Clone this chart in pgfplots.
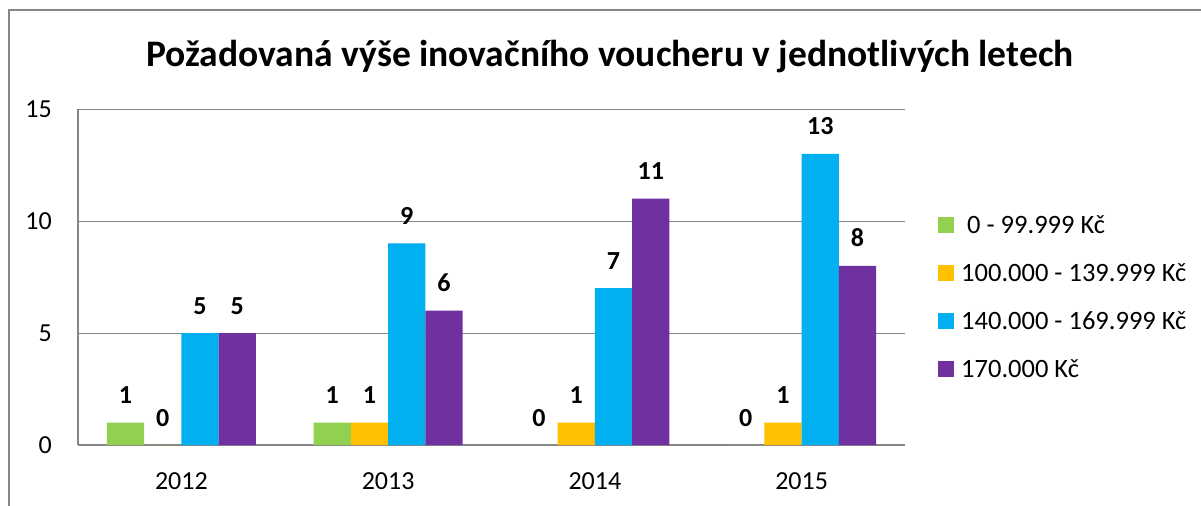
\documentclass[border=0pt]{standalone}
\usepackage{fontspec}
\setmainfont{Carlito}
\usepackage{pgfplots}
\pgfplotsset{compat=1.18}
\definecolor{cgreen}{HTML}{92D050}
\definecolor{corange}{HTML}{FFC000}
\definecolor{cblue}{HTML}{00B0F0}
\definecolor{cpurple}{HTML}{7030A0}
\definecolor{axgray}{HTML}{868686}
\begin{document}
\begin{tikzpicture}
\useasboundingbox (0bp,0bp) rectangle (1201bp,-506bp);
\draw[axgray, line width=1.5bp] (9bp,-506bp) -- (9bp,-10bp) -- (1201bp,-10bp);
\node[anchor=base, inner sep=0, font=\fontsize{37.5bp}{45bp}\selectfont\bfseries] at (610bp,-66bp) {Požadovaná výše inovačního voucheru v jednotlivých letech};
\begin{axis}[
  at={(78bp,-445bp)}, anchor=south west,
  scale only axis, width=827bp, height=336bp,
  ybar=0pt, bar width=37.3bp,
  xmin=-0.5, xmax=3.5, ymin=0, ymax=15,
  xtick={0,1,2,3}, xticklabels={2012,2013,2014,2015},
  ytick={0,5,10,15},
  /pgf/number format/assume math mode=true,
  ymajorgrids, grid style={axgray, line width=1bp},
  axis x line*=bottom, axis y line*=left,
  axis line style={axgray, line width=1.5bp, -},
  major tick length=0pt,
  tick label style={font=\fontsize{26bp}{31bp}\selectfont, inner sep=0pt},
  xticklabel style={yshift=-27bp},
  yticklabel style={xshift=-26bp},
  nodes near coords,
  every node near coord/.append style={font=\fontsize{26bp}{31bp}\selectfont\bfseries, inner sep=0pt, anchor=south, yshift=18.5bp, text=black},
  legend style={at={(1.0399,0.6845)}, anchor=north west, draw=none, fill=none,
    font=\fontsize{26.5bp}{32bp}\selectfont, inner sep=0pt, row sep=28.7bp, column sep=7bp,
    nodes={inner sep=0pt}},
  legend cell align=left,
  legend image code/.code={\fill[#1] (0bp,-8bp) rectangle (16bp,8bp);},
]
\addplot[fill=cgreen, draw=none] coordinates {(0,1) (1,1) (2,0) (3,0)};
\addplot[fill=corange, draw=none] coordinates {(0,0) (1,1) (2,1) (3,1)};
\addplot[fill=cblue, draw=none] coordinates {(0,5) (1,9) (2,7) (3,13)};
\addplot[fill=cpurple, draw=none] coordinates {(0,5) (1,6) (2,11) (3,8)};
\legend{\hspace*{6bp}0 - 99.999 Kč, 100.000 - 139.999 Kč, 140.000 - 169.999 Kč, 170.000 Kč}
\end{axis}
\end{tikzpicture}
\end{document}
